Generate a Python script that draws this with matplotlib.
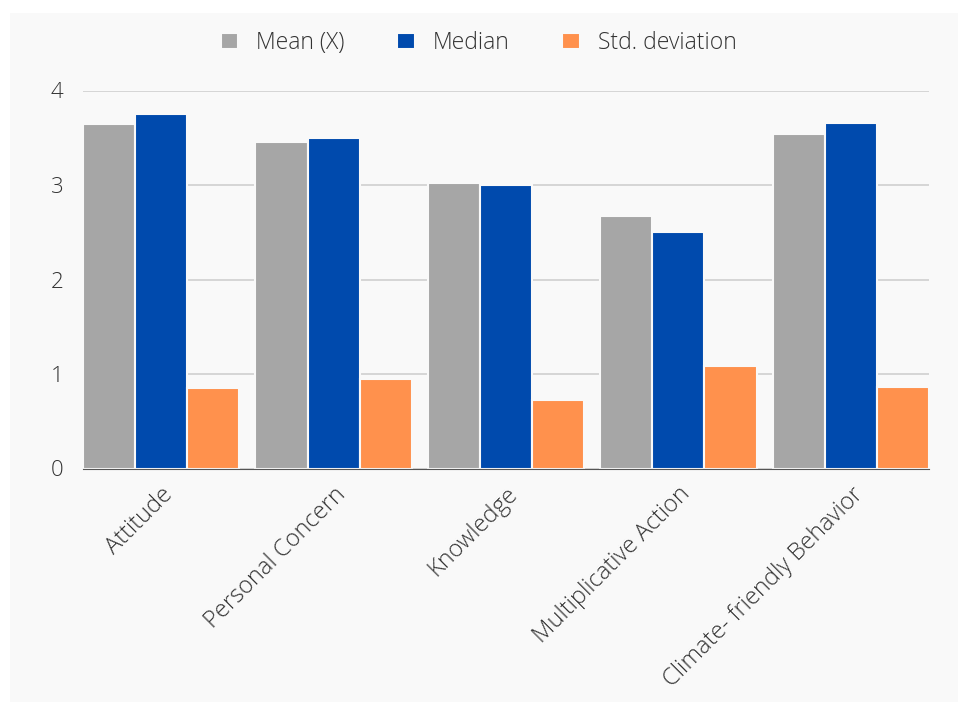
import numpy as np
import matplotlib
matplotlib.use('Agg')
import matplotlib.pyplot as plt
from matplotlib.patches import Rectangle

plt.rcParams['font.family'] = ['Open Sans', 'DejaVu Sans']
plt.rcParams['font.weight'] = 'light'

categories = ['Attitude', 'Personal Concern', 'Knowledge',
              'Multiplicative Action', 'Climate- friendly Behavior']
mean_vals = [3.65, 3.45, 3.02, 2.67, 3.54]
median_vals = [3.75, 3.50, 3.00, 2.50, 3.66]
std_vals = [0.85, 0.95, 0.72, 1.08, 0.86]

series_names = ['Mean (X)', 'Median', 'Std. deviation']
colors = ['#a6a6a6', '#004aad', '#ff914d']

fig = plt.figure(figsize=(9.63, 7.02), dpi=100)
fig.patch.set_facecolor('white')
# light gray card behind the chart
fig.patches.append(Rectangle((10 / 963, 0), 948 / 963, 689 / 702,
                             transform=fig.transFigure, facecolor='#f9f9f9',
                             edgecolor='none', zorder=-10))

ax = fig.add_axes([83 / 963, 1 - 468.5 / 702, 846 / 963, 378 / 702])
ax.set_facecolor('none')

x = np.arange(len(categories))
slot = 0.3016
for i, (vals, name, c) in enumerate(zip([mean_vals, median_vals, std_vals],
                                        series_names, colors)):
    ax.bar(x + (i - 1) * slot, vals, width=slot, color=c, label=name,
           edgecolor='#f9f9f9', linewidth=1.5, zorder=3)

ax.set_xlim(-1.5 * slot, len(categories) - 1 + 1.5 * slot)
ax.set_ylim(0, 4)
ax.set_yticks([0, 1, 2, 3, 4])
ax.yaxis.grid(True, color='#d3d3d3', linewidth=1.3, zorder=0)
for s in ['top', 'right', 'left']:
    ax.spines[s].set_visible(False)
ax.spines['bottom'].set_color('#555555')
ax.spines['bottom'].set_zorder(4)
ax.tick_params(axis='both', length=0, labelsize=16, colors='#333333')
ax.tick_params(axis='y', pad=14)
ax.tick_params(axis='x', pad=10)
ax.set_xticks(x)
ax.set_xticklabels(categories, rotation=45, ha='right',
                   rotation_mode='anchor', fontsize=17, color='#333333')

leg = fig.legend(loc='center', bbox_to_anchor=(0.497, 1 - 43 / 702), ncol=3,
                 frameon=False, fontsize=16.5, handlelength=0.75,
                 handleheight=0.75, handletextpad=0.8, columnspacing=2.3)
for t in leg.get_texts():
    t.set_color('#333333')

fig.savefig('out.png', dpi=100, facecolor=fig.get_facecolor())
